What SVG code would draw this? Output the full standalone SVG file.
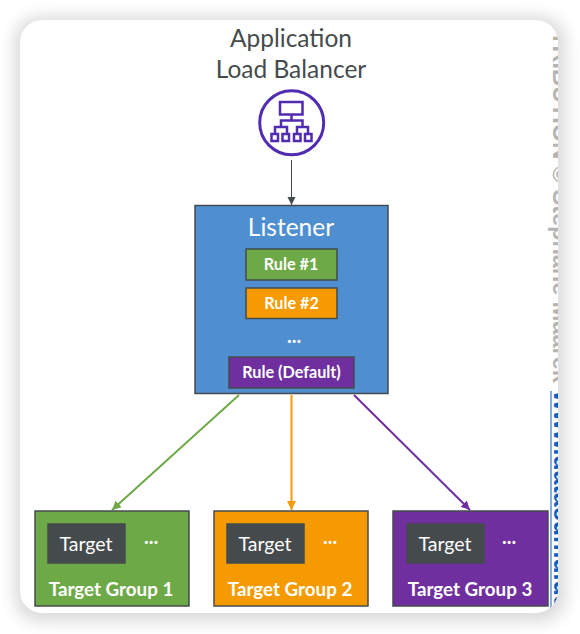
<svg xmlns="http://www.w3.org/2000/svg" width="580" height="634" viewBox="0 0 580 634">
<style>
text{font-family:Lato,"Open Sans","Liberation Sans",sans-serif;text-anchor:middle}
.box{stroke:#454b4d;stroke-width:1.5}
.title{font-size:24.500px;fill:#454b4d}
.w{fill:#fff}
.rule{font-size:16.200px;font-weight:700;fill:#fff}
.tg{font-size:18.800px;font-weight:700;fill:#fff}
.t{font-size:19.500px;fill:#fff}
.dots{font-size:20px;font-weight:700;fill:#fff}
.side{font-family:"Liberation Sans",sans-serif;font-weight:700;font-size:23.500px;text-anchor:start}
.ln{fill:none;stroke-width:2}
</style>
<defs>
<filter id="sh" x="-10%" y="-10%" width="120%" height="120%"><feGaussianBlur stdDeviation="8"/></filter>
<clipPath id="card"><rect x="20" y="20" width="538" height="593" rx="22"/></clipPath>
<marker id="mk" markerWidth="10" markerHeight="10" refX="8" refY="4" orient="auto" markerUnits="userSpaceOnUse"><path d="M0 0L8 4L0 8z" fill="#454b4d"/></marker>
<marker id="mg" markerWidth="11" markerHeight="10" refX="9" refY="4.500" orient="auto" markerUnits="userSpaceOnUse"><path d="M0 0L9 4.500L0 9z" fill="#6ea947"/></marker>
<marker id="mo" markerWidth="11" markerHeight="10" refX="9" refY="4.500" orient="auto" markerUnits="userSpaceOnUse"><path d="M0 0L9 4.500L0 9z" fill="#f59a00"/></marker>
<marker id="mp" markerWidth="11" markerHeight="10" refX="9" refY="4.500" orient="auto" markerUnits="userSpaceOnUse"><path d="M0 0L9 4.500L0 9z" fill="#6f2f9e"/></marker>
</defs>
<rect width="580" height="634" fill="#fff"/>
<rect x="14" y="16" width="552" height="606" rx="26" fill="#000" opacity=".14" filter="url(#sh)"/>
<rect x="20" y="20" width="538" height="593" rx="22" fill="#fff"/>
<g clip-path="url(#card)">
<text class="side" fill="#b4b4b4" transform="translate(553 -8) rotate(90)">DISTRIBUTION © Stephane Maarek</text>
<text class="side" fill="#0b5fc0" style="font-size:25px" transform="translate(553.500 391) rotate(90)">www.datacumulus.com</text>
<path d="M551 391V613" stroke="#0b5fc0" stroke-width="1" fill="none"/>
</g>
<g id="connectors">
<path class="ln" stroke="#454b4d" style="stroke-width:1" d="M291.500 160V205" marker-end="url(#mk)"/>
<path class="ln" stroke="#6ea947" d="M239 395L112 510" marker-end="url(#mg)"/>
<path class="ln" stroke="#f59a00" d="M291.500 395V510" marker-end="url(#mo)"/>
<path class="ln" stroke="#6f2f9e" d="M354 395L470 510" marker-end="url(#mp)"/>
</g>
<g id="alb">
<text class="title" x="291" y="47">Application</text>
<text class="title" x="291" y="78">Load Balancer</text>
<circle cx="291.700" cy="122.700" r="32" fill="#fff" stroke="#512bb0" stroke-width="3"/>
<g fill="none" stroke="#512bb0" stroke-width="2.500">
<rect x="280" y="102" width="22.500" height="12.500"/>
<path d="M291.500 114.500V120.500M281 127V120.500H302.500V127M275 134V127H287V134M297 134V127H308V134"/>
<rect x="271.500" y="134" width="6.500" height="7"/><rect x="282.500" y="134" width="6.500" height="7"/><rect x="294" y="134" width="6.500" height="7"/><rect x="305" y="134" width="6.500" height="7"/>
</g>
</g>
<g id="listener">
<rect class="box" x="195" y="205.500" width="193" height="188" fill="#4f8fd0"/>
<text class="w" x="291" y="236" font-size="24.500">Listener</text>
</g>
<g id="rule1"><rect class="box" x="246" y="249" width="91" height="31" fill="#6ea947"/><text class="rule" x="291" y="270">Rule #1</text></g>
<g id="rule2"><rect class="box" x="246" y="288" width="91" height="30.500" fill="#f59a00"/><text class="rule" x="291.500" y="308.500">Rule #2</text></g>
<g id="ellipsis"><text class="dots" x="294" y="343">...</text></g>
<g id="ruledefault"><rect class="box" x="229" y="357" width="125" height="31" fill="#6f2f9e"/><text class="rule" x="291.500" y="378">Rule (Default)</text></g>
<g id="tg1"><rect class="box" x="35" y="511" width="154" height="95" fill="#6ea947"/><rect class="box" x="48" y="524" width="77" height="39" fill="#454b4d"/><text class="t" x="86" y="551">Target</text><text class="dots" x="151" y="544">...</text><text class="tg" x="111" y="596">Target Group 1</text></g>
<g id="tg2"><rect class="box" x="214" y="511" width="154" height="95" fill="#f59a00"/><rect class="box" x="227" y="524" width="77" height="39" fill="#454b4d"/><text class="t" x="265" y="551">Target</text><text class="dots" x="330" y="544">...</text><text class="tg" x="290" y="596">Target Group 2</text></g>
<g id="tg3"><rect class="box" x="393" y="511" width="155" height="95" fill="#6f2f9e"/><rect class="box" x="407" y="524" width="77" height="39" fill="#454b4d"/><text class="t" x="445" y="551">Target</text><text class="dots" x="509" y="544">...</text><text class="tg" x="470" y="596">Target Group 3</text></g>
</svg>
